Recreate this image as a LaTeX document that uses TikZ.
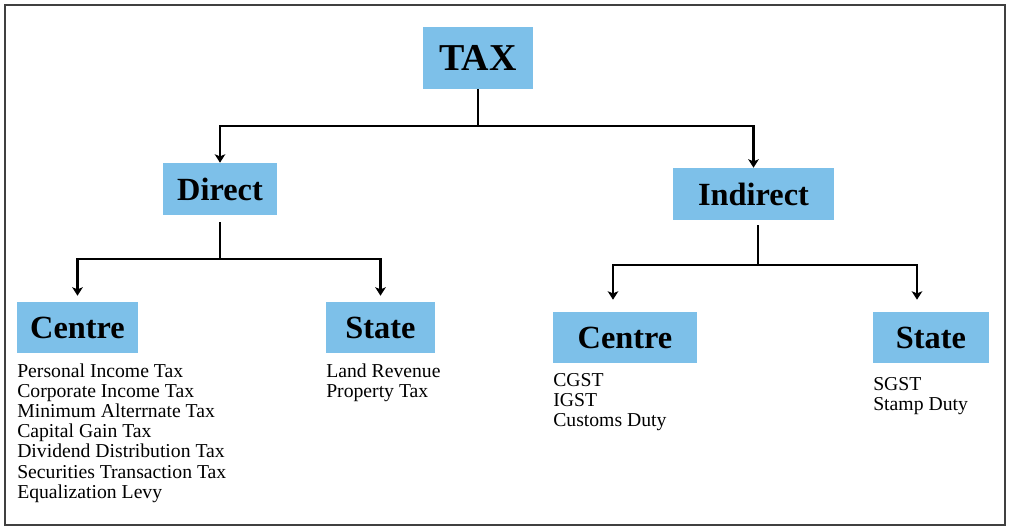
\documentclass[tikz,border=0pt]{standalone}
\usepackage{fontspec}
\setmainfont{Liberation Serif}
\usetikzlibrary{arrows.meta}
\definecolor{taxblue}{RGB}{125,192,233}

\begin{document}
\begin{tikzpicture}[x=0.025cm, y=-0.025cm,
    head/.style = {fill=taxblue, inner sep=0pt, minimum height=1.275cm,
                   font=\fontsize{23}{26}\selectfont\bfseries},
    item/.style = {anchor=base west, inner sep=0pt,
                   font=\fontsize{14}{16}\selectfont},
    wire/.style = {line width=1.8pt},
    arr/.style  = {wire, -{Stealth[length=6pt,width=7.5pt,inset=1.5pt]}}
]
    \useasboundingbox (0,0) rectangle (1010,531);
    \draw[line width=1.5pt, black!75] (5,5) rectangle (1005,525);

    %-- Heading boxes ---------------------------------------------------------
    \node[head, minimum width=2.75cm, minimum height=1.55cm,
          font=\fontsize{27}{30}\selectfont\bfseries] (tax) at (478,58) {TAX};
    \node[head, minimum width=2.85cm, minimum height=1.3cm] (direct) at (220,189) {Direct};
    \node[head, minimum width=4.025cm, minimum height=1.3cm] (indirect) at (753.5,194) {Indirect};
    \node[head, minimum width=3.025cm] (centreL) at (77.5,327.5) {Centre};
    \node[head, minimum width=2.725cm] (stateL)  at (380.5,327.5) {State};
    \node[head, minimum width=3.6cm]   (centreR) at (625,337.5) {Centre};
    \node[head, minimum width=2.9cm]   (stateR)  at (931,337.5) {State};

    %-- TAX -> Direct / Indirect ----------------------------------------------
    \coordinate (tj) at (478,126);
    \draw[wire] (tax.south) -- (tj);
    \draw[arr] (tj) -| (direct.north);
    \draw[arr] (tj) -| (indirect.north);

    %-- Direct -> Centre / State ----------------------------------------------
    \coordinate (dj) at (220,259);
    \draw[wire, shorten <=0.175cm] (direct.south) -- (dj);
    \draw[arr, shorten >=0.15cm] (dj) -| (centreL.north);
    \draw[arr, shorten >=0.15cm] (dj) -| (stateL.north);

    %-- Indirect -> Centre / State (arrows sit a bit left of the box middle)
    \coordinate (ij) at (758,265);
    \draw[wire, shorten <=0.125cm] (ij |- indirect.south) -- (ij);
    \draw[arr] (ij) -| ([xshift=-0.3cm,yshift=0.3cm]centreR.north);
    \draw[arr] (ij) -| ([xshift=-0.35cm,yshift=0.3cm]stateR.north);

    %-- Lists under the boxes -------------------------------------------------
    \foreach \txt [count=\i from 0] in {Personal Income Tax, Corporate Income Tax,
        Minimum Alterrnate Tax, Capital Gain Tax, Dividend Distribution Tax,
        Securities Transaction Tax, Equalization Levy}
        \node[item] (cl-\i) at (17,{377+20.2*\i}) {\txt};

    \foreach \txt [count=\i from 0] in {Land Revenue, Property Tax}
        \node[item] (sl-\i) at (326,{377+20.2*\i}) {\txt};

    \foreach \txt [count=\i from 0] in {CGST, IGST, Customs Duty}
        \node[item] (cr-\i) at (553,{386+20*\i}) {\txt};

    \foreach \txt [count=\i from 0] in {SGST, Stamp Duty}
        \node[item] (sr-\i) at (873,{390+20*\i}) {\txt};

\end{tikzpicture}
\end{document}
